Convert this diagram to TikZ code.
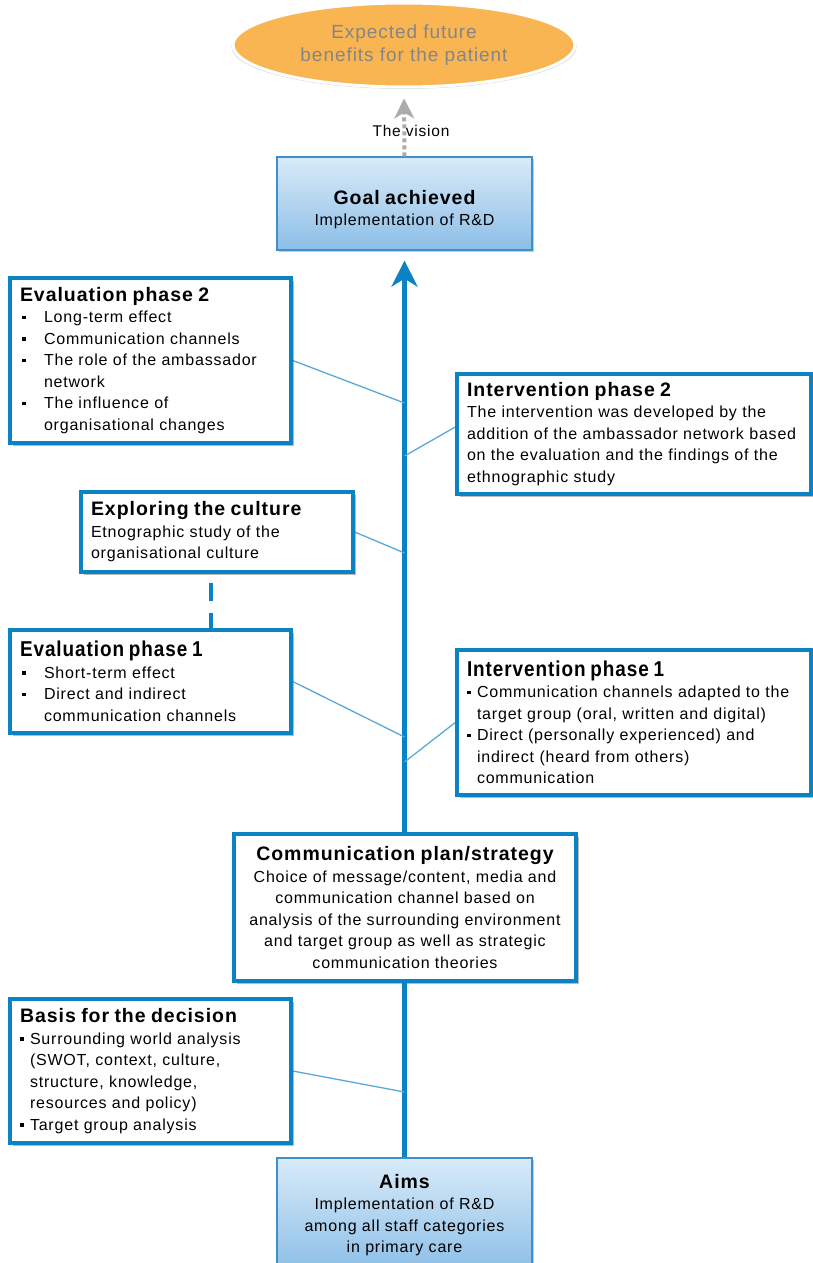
\documentclass[tikz,border=0pt]{standalone}
\usepackage{fontspec}
\setmainfont{Liberation Sans}[LetterSpace=5]
\usetikzlibrary{arrows.meta,shapes.geometric,shadows,backgrounds}

\definecolor{boxblue}{HTML}{0A82C4}
\definecolor{linkblue}{HTML}{5AA8DA}
\definecolor{goaltop}{HTML}{D8EBF9}
\definecolor{goalbot}{HTML}{8CBEE7}
\definecolor{goalrim}{HTML}{3F8FCB}
\definecolor{orangefill}{HTML}{F9B552}
\definecolor{visiongray}{HTML}{ABABAB}
\definecolor{ovaltext}{HTML}{858585}

% square bullets and hanging indents
\newcommand\sqb{\rule[3.6pt]{3.6pt}{3.6pt}}
\newcommand\wideitem{\makebox[24pt][l]{\hspace{2pt}\sqb}}
\newcommand\wideskip{\hspace*{24pt}}
\newcommand\tightitem{\makebox[10pt][l]{\sqb}}
\newcommand\tightskip{\hspace*{10pt}}
\newcommand\headline[1]{{\bfseries\fontsize{19.5}{21.5}\selectfont #1}}
% condensed heading used in the first-phase boxes
\newcommand\narrowhead[1]{{\bfseries\fontsize{21.5}{21.5}\selectfont\scalebox{0.88}[1]{#1}}}

\tikzset{
  boxshadow/.style={drop shadow={shadow xshift=3pt, shadow yshift=-3pt,
    fill=black!60, opacity=0.45}},
  card/.style={draw=boxblue, line width=3.5pt, fill=white,
    inner xsep=10pt, inner ysep=4pt, align=left,
    font=\fontsize{16}{21.5}\selectfont, boxshadow},
  goalbox/.style={draw=goalrim, line width=1.2pt,
    top color=goaltop, bottom color=goalbot,
    inner xsep=10pt, align=center,
    font=\fontsize{16}{21.5}\selectfont,
    drop shadow={shadow xshift=2pt, shadow yshift=-2pt, fill=black!60, opacity=0.35}},
  oval/.style={ellipse, fill=orangefill, draw=white, line width=3pt,
    minimum width=342pt, minimum height=84pt, text=ovaltext,
    font=\fontsize{19}{23}\selectfont, align=center,
    drop shadow={shadow xshift=0pt, shadow yshift=-1.5pt, fill=black!50,
      opacity=0.3, shadow scale=1.01}},
  link/.style={draw=linkblue, line width=1.3pt},
  spine/.style={draw=boxblue, line width=4.5pt,
    -{Stealth[length=26pt,width=26pt,inset=8pt]}},
  visionline/.style={draw=visiongray, line width=4pt, dash pattern=on 4pt off 3pt,
    -{Stealth[length=20pt,width=20pt,inset=6pt]}},
  dashlink/.style={draw=boxblue, line width=4pt, dash pattern=on 18pt off 12pt, dash phase=21pt}
}

\begin{document}
\begin{tikzpicture}[x=1pt,y=-1pt]
\useasboundingbox (0,0) rectangle (813,1263);
\clip (0,0) rectangle (813,1263);

% vision and goal
\node[oval] (oval) at (404,45) {Expected future\\benefits for the patient};

\node[goalbox, minimum width=255pt, minimum height=93pt, text width=235pt]
  (goal) at (404.5,203.5) {\rule{0pt}{26pt}\headline{Goal achieved}\\Implementation of R\&D};

\node[goalbox, minimum width=255pt, minimum height=114pt, text width=235pt]
  (aims) at (404.5,1215) {\headline{Aims}\\Implementation of R\&D\\among all staff categories\\in primary care};

% phase boxes
\node[card, minimum width=281pt, minimum height=165pt, text width=261pt]
  (eval2) at (150.5,360.5) {\headline{Evaluation phase 2}\\
  \wideitem Long-term effect\\
  \wideitem Communication channels\\
  \wideitem The role of the ambassador\\
  \wideskip network\\
  \wideitem The influence of\\
  \wideskip organisational changes};

\node[card, minimum width=354pt, minimum height=120pt, text width=334pt]
  (int2) at (634,434) {\headline{Intervention phase 2}\\
  The intervention was developed by the\\
  addition of the ambassador network based\\
  on the evaluation and the findings of the\\
  ethnographic study};

\node[card, minimum width=272pt, minimum height=80pt, text width=252pt]
  (explore) at (217,532) {\headline{Exploring the culture}\\
  Etnographic study of the\\
  organisational culture};

\node[card, minimum width=281pt, minimum height=103pt, text width=261pt]
  (eval1) at (150.5,681.5) {\narrowhead{Evaluation phase 1}\\
  \wideitem Short-term effect\\
  \wideitem Direct and indirect\\
  \wideskip communication channels};

\node[card, minimum width=354pt, minimum height=145pt, text width=334pt]
  (int1) at (634,722.5) {\narrowhead{Intervention phase 1}\\
  \tightitem Communication channels adapted to the\\
  \tightskip target group (oral, written and digital)\\
  \tightitem Direct (personally experienced) and\\
  \tightskip indirect (heard from others)\\
  \tightskip communication};

\node[card, align=center, minimum width=342pt, minimum height=147pt, text width=322pt]
  (comm) at (405,907.5) {\headline{Communication plan/strategy}\\
  Choice of message/content, media and\\
  communication channel based on\\
  analysis of the surrounding environment\\
  and target group as well as strategic\\
  communication theories};

\node[card, minimum width=281pt, minimum height=144pt, text width=261pt]
  (basis) at (150.5,1071) {\headline{Basis for the decision}\\
  \tightitem Surrounding world analysis\\
  \tightskip (SWOT, context, culture,\\
  \tightskip structure, knowledge,\\
  \tightskip resources and policy)\\
  \tightitem Target group analysis};

% meeting points on the main axis
\coordinate (m-eval2) at (404.5,403);
\coordinate (m-int2) at (404.5,456);
\coordinate (m-explore) at (404.5,553);
\coordinate (m-eval1) at (404.5,737);
\coordinate (m-int1) at (404.5,762);
\coordinate (m-basis) at (404.5,1092);

\begin{scope}[on background layer]
  \draw[spine, shorten >=10pt] (aims.north) -- (goal.south);
  \draw[link] (eval2.east) -- (m-eval2);
  \draw[link] ([yshift=7pt]int2.west) -- (m-int2);
  \draw[link] (explore.east) -- (m-explore);
  \draw[link] (eval1.east) -- (m-eval1);
  \draw[link] (int1.west) -- (m-int1);
  \draw[link] (basis.east) -- (m-basis);
  \draw[dashlink] (explore.south -| 211,0) -- (eval1.north -| 211,0);
\end{scope}

\draw[visionline, shorten >=10pt] (goal.north) -- (oval.south);
\node[font=\fontsize{15.5}{18}\selectfont] (vision) at (411,131) {The vision};
\end{tikzpicture}
\end{document}
